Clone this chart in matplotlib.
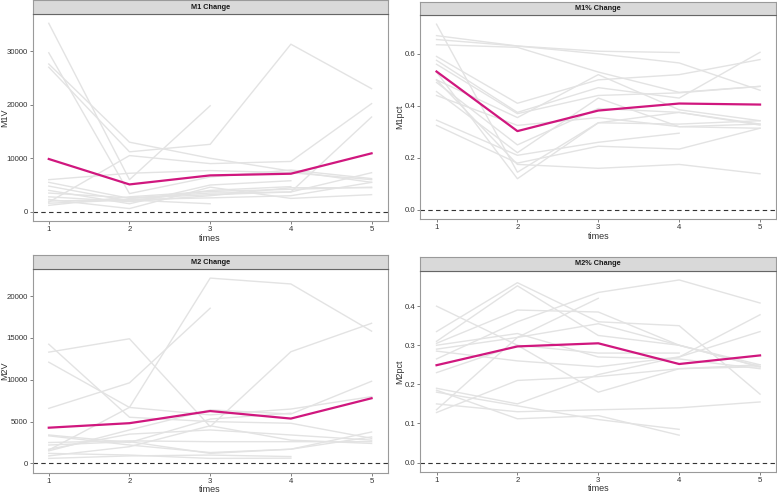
import numpy as np
import matplotlib
matplotlib.use("Agg")
import matplotlib.pyplot as plt

nan = np.nan
times = [1, 2, 3, 4, 5]

# M1V per subject (gray) and group mean (magenta)
m1v = [
    [35200, 6000, 19800, nan, nan],
    [29700, 3400, 6500, 7800, 6200],
    [27600, 13000, 10000, 7600, 5500],
    [27000, 11200, 12600, 31300, 23000],
    [6000, 7200, 7700, 7300, 6000],
    [1800, 10500, 9000, 9400, 20200],
    [5500, 2500, 3200, 3700, 17700],
    [4800, 2000, 4000, 4700, nan],
    [4000, 1500, 5000, 5800, nan],
    [3500, 2600, 3500, 3700, 7300],
    [2800, 1900, 3000, 4500, 4500],
    [2300, 600, 4600, 2500, 3200],
    [1600, 2200, 1500, nan, nan],
    [1200, 2800, 3800, 4200, 4600],
    [2000, 2300, 2600, 3000, 5500],
]
m1v_mean = [9860, 5110, 6800, 7110, 10920]

m1pct = [
    [0.714, 0.145, 0.335, 0.375, 0.33],
    [0.67, 0.63, 0.61, 0.605, nan],
    [0.655, 0.63, 0.60, 0.565, 0.46],
    [0.635, 0.625, 0.53, 0.452, 0.475],
    [0.59, 0.41, 0.50, 0.52, 0.578],
    [0.575, 0.375, 0.47, 0.43, 0.606],
    [0.56, 0.37, 0.44, 0.45, 0.475],
    [0.50, 0.355, 0.52, 0.385, 0.343],
    [0.49, 0.25, 0.39, 0.375, 0.326],
    [0.455, 0.22, 0.43, 0.32, 0.314],
    [0.44, 0.325, 0.355, 0.32, 0.33],
    [0.345, 0.21, 0.26, 0.295, nan],
    [0.325, 0.18, 0.245, 0.234, 0.314],
    [0.53, 0.12, 0.335, 0.33, 0.343],
    [0.50, 0.175, 0.16, 0.175, 0.139],
]
m1pct_mean = [0.532, 0.303, 0.382, 0.409, 0.405]

m2v = [
    [13300, 14900, 4400, 13350, 16750],
    [1600, 6700, 22150, 21450, 15810],
    [6580, 9630, 18550, nan, nan],
    [14250, 5520, 5000, 4800, 3000],
    [12100, 6690, 5800, 6500, 7985],
    [3400, 2500, 5300, 6000, nan],
    [3300, 2200, 1300, 1700, 3757],
    [2200, 2600, 1200, 1700, 3170],
    [1500, 4000, 6400, 5900, 9820],
    [1700, 3500, 4000, 3400, 2780],
    [900, 2000, 4500, 2780, 2390],
    [600, 900, 1000, 820, nan],
    [1200, 1000, 600, 626, nan],
    [2500, 2700, 2600, 2600, 2600],
]
m2v_mean = [4270, 4810, 6260, 5360, 7790]

m2pct = [
    [0.40, 0.30, 0.18, 0.24, 0.245],
    [0.335, 0.46, 0.36, 0.35, 0.175],
    [0.31, 0.452, 0.325, 0.30, 0.25],
    [0.305, 0.39, 0.385, 0.30, 0.245],
    [0.30, 0.33, 0.27, 0.265, 0.24],
    [0.285, 0.26, 0.245, 0.27, 0.335],
    [0.265, 0.36, 0.435, 0.467, 0.408],
    [0.23, 0.30, 0.28, 0.28, nan],
    [0.19, 0.15, 0.225, 0.27, 0.378],
    [0.18, 0.145, 0.11, 0.085, nan],
    [0.15, 0.13, 0.135, 0.14, 0.155],
    [0.135, 0.32, 0.42, nan, nan],
    [0.128, 0.21, 0.22, 0.24, 0.25],
    [0.185, 0.112, 0.12, 0.07, nan],
    [0.29, 0.32, 0.355, 0.30, 0.245],
]
m2pct_mean = [0.249, 0.297, 0.305, 0.252, 0.274]

panels = [
    ("M1 Change", "M1V", m1v, m1v_mean, [0, 10000, 20000, 30000]),
    ("M1% Change", "M1pct", m1pct, m1pct_mean, [0.0, 0.2, 0.4, 0.6]),
    ("M2 Change", "M2V", m2v, m2v_mean, [0, 5000, 10000, 15000, 20000]),
    ("M2% Change", "M2pct", m2pct, m2pct_mean, [0.0, 0.1, 0.2, 0.3, 0.4]),
]
# [left, bottom, width, height] of plot area, strip height, ylabel x
boxes = [
    ([0.042, 0.554, 0.457, 0.418], 0.027, -0.066),
    ([0.541, 0.558, 0.458, 0.412], 0.025, -0.046),
    ([0.042, 0.047, 0.457, 0.411], 0.027, -0.066),
    ([0.541, 0.049, 0.458, 0.405], 0.028, -0.046),
]

plt.rcParams['font.family'] = ['Liberation Sans', 'DejaVu Sans']
fig = plt.figure(figsize=(7.77, 4.96), dpi=100)

for (title, ylab, subj, mean, yt), (rect, sh, ylx) in zip(panels, boxes):
    ax = fig.add_axes(rect)
    for s in subj:
        ax.plot(times, s, color='#E3E3E3', lw=1.0, zorder=1)
    ax.plot(times, mean, color='#D0177E', lw=1.6, zorder=3)
    ax.axhline(0, color='#333333', ls=(0, (4, 3)), lw=0.8, zorder=2)

    vals = np.array(subj, dtype=float)
    lo = min(0, np.nanmin(vals))
    hi = np.nanmax(vals)
    pad = (hi - lo) * 0.05
    ax.set_ylim(lo - pad, hi + pad)
    ax.set_xlim(0.8, 5.2)
    ax.set_xticks(times)
    ax.set_yticks(yt)
    ax.set_yticklabels([f"{v:.1f}" if isinstance(v, float) else str(v) for v in yt])
    ax.tick_params(labelsize=5.6, colors='#4D4D4D', length=2, width=0.5,
                   labelcolor='#333333', pad=1.5)
    for sp in ax.spines.values():
        sp.set_color('#9A9A9A')
        sp.set_linewidth(0.8)
    ax.set_xlabel('times', fontsize=6.5, color='#333333', labelpad=0.5)
    ax.set_ylabel(ylab, fontsize=6.5, color='#333333')
    ax.yaxis.set_label_coords(ylx, 0.5)

    sx = fig.add_axes([rect[0], rect[1] + rect[3], rect[2], sh])
    sx.set_facecolor('#D9D9D9')
    sx.set_xticks([])
    sx.set_yticks([])
    for sp in sx.spines.values():
        sp.set_color('#9A9A9A')
        sp.set_linewidth(0.8)
    sx.spines['bottom'].set_color('#666666')
    sx.text(0.5, 0.5, title, ha='center', va='center', fontsize=5.3,
            fontweight='bold', color='#1A1A1A', transform=sx.transAxes)

fig.savefig('out.png', dpi=100)
